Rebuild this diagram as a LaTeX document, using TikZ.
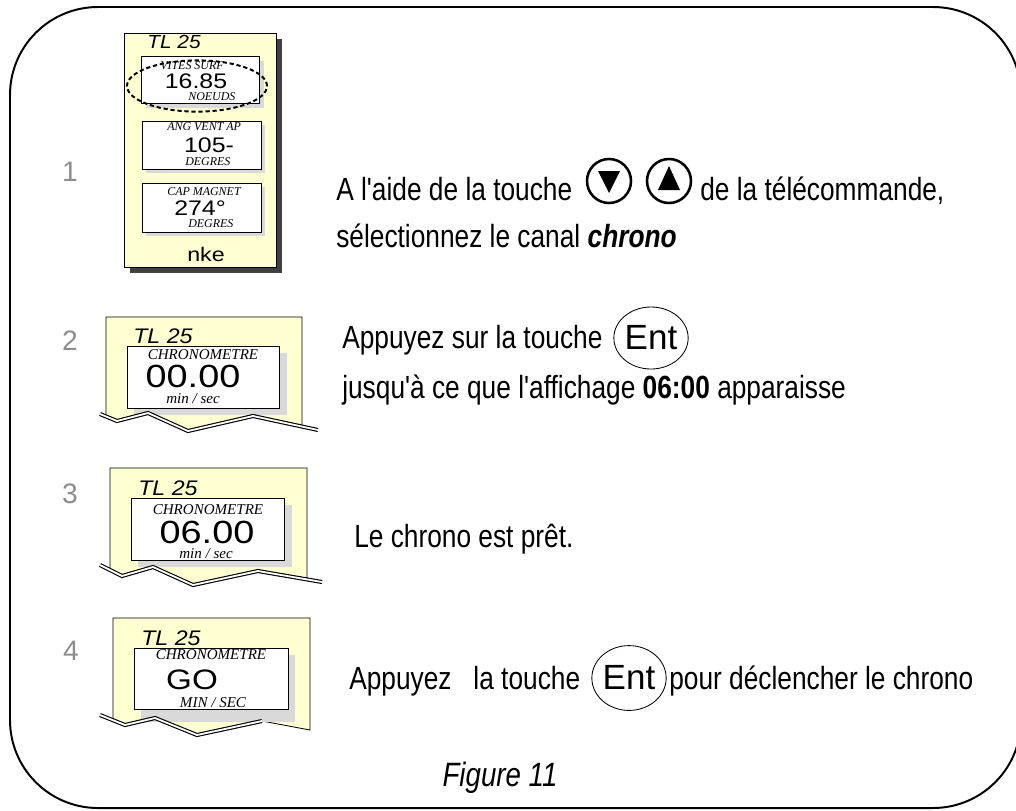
\documentclass[tikz,border=0pt]{standalone}
\usepackage{fontspec}
\setmainfont{Liberation Sans}
\newfontfamily\narrowfont[FakeStretch=0.82]{Liberation Sans}
\newfontfamily\lcdfont[FakeStretch=1.18]{Liberation Sans}
\newfontfamily\modelfont[FakeStretch=1.1]{Liberation Sans}
\newfontfamily\tagfont{Liberation Serif}
\usetikzlibrary{shapes.geometric}
\definecolor{panelyellow}{RGB}{255,255,210}
\definecolor{darkshadow}{RGB}{64,64,64}
\definecolor{lightshadow}{RGB}{217,217,217}
\definecolor{stepgray}{RGB}{140,140,140}
\tikzset{
  panel/.style={fill=panelyellow,draw=black,line width=0.6pt},
  lcdbox/.style={fill=white,draw=black,line width=0.6pt},
  rip/.style={draw=black,double=white,double distance=1.3pt,line width=0.8pt},
  tag/.style={font=\tagfont\itshape\fontsize{10.7}{11}\selectfont,inner sep=0pt},
  smalltag/.style={font=\tagfont\itshape\fontsize{8.5}{9}\selectfont,inner sep=0pt,anchor=base west},
  reading/.style={font=\lcdfont\fontsize{22.8}{23}\selectfont,inner sep=0pt},
  smallreading/.style={font=\lcdfont\fontsize{15}{15}\selectfont,inner sep=0pt},
  model/.style={font=\modelfont\itshape\fontsize{15}{15}\selectfont,inner sep=0pt,anchor=base west},
  stepnum/.style={font=\fontsize{20}{20}\selectfont,text=stepgray,inner sep=0pt},
  instr/.style={font=\narrowfont\fontsize{22.8}{23}\selectfont,anchor=base west,inner sep=0pt},
  arrowkey/.style={draw,circle,line width=1.8pt,minimum size=1.1cm,inner sep=0pt},
  entkey/.style={draw,ellipse,line width=0.6pt,inner sep=0pt,font=\fontsize{24.9}{25}\selectfont}
}
\begin{document}
\begin{tikzpicture}[x=0.025cm,y=-0.025cm]
\useasboundingbox (0,0) rectangle (1016,810);
\clip (0,0) rectangle (1016,810);
\draw[line width=1.4pt,rounded corners=2.2cm] (10,7) rectangle (1021,808);

\fill[darkshadow] (130,39) rectangle (282,273);
\draw[panel] (124,33) rectangle (276,267);
\fill[lightshadow] (146,61) rectangle (264,108);
\draw[lcdbox] (141,56) rectangle (259,103);
\fill[lightshadow] (146,125) rectangle (265,173);
\draw[lcdbox] (142,121) rectangle (261,169);
\fill[lightshadow] (146,187) rectangle (265,236);
\draw[lcdbox] (142,183) rectangle (261,232);
\node[model,font=\modelfont\itshape\fontsize{13.5}{14}\selectfont] (tla) at (147,48) {TL 25};
\node[smalltag] (vites) at (160,69) {VITES SURF};
\node[smallreading] (speed) at (196,81) {16.85};
\node[smalltag] (noeuds) at (188,100) {NOEUDS};
\node[smalltag] (ang) at (167,130) {ANG VENT AP};
\node[smallreading] (angle) at (209,145) {105-};
\node[smalltag] (degresa) at (185,165) {DEGRES};
\node[smalltag] (cap) at (167,195) {CAP MAGNET};
\node[smallreading] (heading) at (200,208) {274°};
\node[smalltag] (degresb) at (188,227) {DEGRES};
\node[smallreading,font=\lcdfont\fontsize{14}{14}\selectfont] (nke) at (206,254) {nke};
\draw[dashed,dash pattern=on 3pt off 2pt,line width=1.4pt] (197,86) ellipse [x radius=1.75cm,y radius=0.64cm];

\draw[panel] (106,317) -- (302,317) -- (302,426.6) -- (253,416) -- (188,431) -- (148,413) -- (117,421) -- (106,416.5) -- cycle;
\fill[lightshadow] (134,353) rectangle (287,415);
\draw[lcdbox] (127,346) rectangle (279,408);
\node[model] (tlb) at (133,343) {TL 25};
\node[tag] (chronob) at (203,355) {CHRONOMETRE};
\node[reading] (timeb) at (193,376) {00.00};
\node[tag,anchor=base] (unitb) at (193,403) {min / sec};
\draw[rip] (100,414) -- (117,421) -- (148,413) -- (188,431) -- (253,416) -- (318,430);

\draw[panel] (110,468) -- (307,468) -- (307,579.4) -- (258,571) -- (193,585) -- (153,567) -- (122,576) -- (110,570) -- cycle;
\fill[lightshadow] (138,505) rectangle (292,567);
\draw[lcdbox] (131,498) rectangle (284,560);
\node[model] (tlc) at (138,495) {TL 25};
\node[tag] (chronoc) at (208,510) {CHRONOMETRE};
\node[reading] (timec) at (207,532) {06.00};
\node[tag,anchor=base] (unitc) at (206,558) {min / sec};
\draw[rip] (100,565) -- (122,576) -- (153,567) -- (193,585) -- (258,571) -- (322,582);

\draw[panel] (113,618) -- (310,618) -- (310,730) -- (262,721) -- (197,735) -- (155,718) -- (125,725) -- (113,720.2) -- cycle;
\fill[lightshadow] (141,655) rectangle (295,722);
\draw[lcdbox] (134,648) rectangle (288,709);
\node[model] (tld) at (141,645) {TL 25};
\node[tag] (chronod) at (211,655) {CHRONOMETRE};
\node[reading,font=\lcdfont\fontsize{20}{20}\selectfont] (go) at (192,680) {GO};
\node[tag] (unitd) at (213,703) {MIN / SEC};
\draw[rip] (100,715) -- (125,725) -- (155,718) -- (197,735) -- (262,721);

\node[stepnum] (one) at (70,172) {1};
\node[stepnum] (two) at (70,341) {2};
\node[stepnum] (three) at (70,494) {3};
\node[stepnum] (four) at (71,651) {4};

\node[instr] (linea) at (336,200) {A l'aide de la touche};
\node[arrowkey] (down) at (609,181) {};
\fill (598,171) -- (620,171) -- (609,193) -- cycle;
\node[arrowkey] (up) at (669,181) {};
\fill (669,166) -- (680,190) -- (658,190) -- cycle;
\node[instr] (lineb) at (700,200) {de la télécommande,};
\node[instr] (linec) at (336,247) {sélectionnez le canal \textbf{\textit{chrono}}};

\node[instr] (lined) at (342,348) {Appuyez sur la touche};
\node[entkey,minimum width=1.75cm,minimum height=1.55cm] (enta) at (651,338) {Ent};
\node[instr] (linee) at (342,398) {jusqu'à ce que l'affichage \textbf{06:00} apparaisse};

\node[instr] (linef) at (354,547) {Le chrono est prêt.};

\node[instr] (lineg) at (349,689) {Appuyez\ \ \ la touche};
\node[entkey,minimum width=1.65cm,minimum height=1.62cm] (entb) at (629,678) {Ent};
\node[instr] (lineh) at (669,689) {pour déclencher le chrono};

\node[font=\narrowfont\itshape\fontsize{24}{24}\selectfont] (caption) at (500,778) {Figure 11};
\end{tikzpicture}
\end{document}
